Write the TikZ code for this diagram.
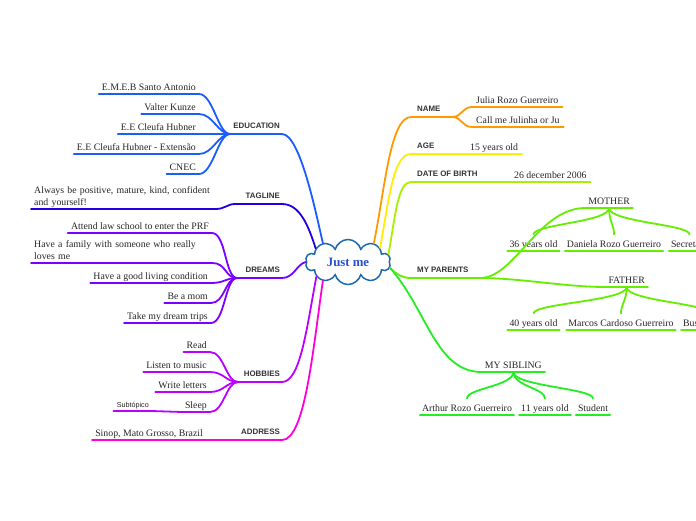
\documentclass[tikz,border=0pt]{standalone}
\usepackage{fontspec}
\setmainfont{Liberation Serif}
\setsansfont{Liberation Sans}
\usetikzlibrary{shapes.symbols}
\definecolor{cedu}{HTML}{1A5CFF}
\definecolor{ctag}{HTML}{2200DD}
\definecolor{cdream}{HTML}{7A00FF}
\definecolor{chobby}{HTML}{BB00FF}
\definecolor{caddr}{HTML}{FF00DD}
\definecolor{cname}{HTML}{FF9900}
\definecolor{cage}{HTML}{FFEE00}
\definecolor{cbirth}{HTML}{AAEE00}
\definecolor{cparent}{HTML}{66EE00}
\definecolor{csibling}{HTML}{22EE22}
\definecolor{cloudline}{HTML}{1E6AAE}
\definecolor{rootblue}{HTML}{2650D0}

\begin{document}
\begin{tikzpicture}[x=1pt, y=-1pt, line cap=round,
  leaf/.style={font=\fontsize{9.8}{12}\selectfont, text=black!85, inner xsep=3pt, inner ysep=1.5pt, text depth=2.2pt},
  lleaf/.style={leaf, anchor=south east},
  rleaf/.style={leaf, anchor=south west, inner xsep=4pt},
  kid/.style={leaf, anchor=south, text height=11pt, inner xsep=2pt},
  topic/.style={font=\sffamily\bfseries\fontsize{7.9}{9}\selectfont, text=black!80, inner ysep=5pt, text depth=0pt},
  ltopic/.style={topic, anchor=south east, inner xsep=2pt},
  rtopic/.style={topic, anchor=south west, inner xsep=6pt},
  branch/.style={line width=1.8pt, draw=#1}]
  \fill[white] (0,0) rectangle (696,520);
  \useasboundingbox (0,0) rectangle (696,520);
  \clip (0,0) rectangle (696,520);

  \node[cloud, cloud puffs=10, cloud ignores aspect, draw=cloudline, line width=1.5pt, fill=white,
    minimum width=85pt, minimum height=45pt, inner sep=0pt, text=rootblue,
    font=\bfseries\fontsize{12.8}{14}\selectfont] (root) at (348,262) {Just me};

  \node[ltopic] (edu) at (282,134) {EDUCATION};
  \node[ltopic] (tagline) at (282,204) {TAGLINE};
  \node[ltopic] (dreams) at (282,278) {DREAMS};
  \node[ltopic] (hobbies) at (282,382) {HOBBIES};
  \node[ltopic] (address) at (282,440) {ADDRESS};
  \coordinate (eduhub) at (230,134);
  \coordinate (taghub) at (235,204);
  \coordinate (dreamhub) at (237,278);
  \coordinate (hobhub) at (238,382);
  \coordinate (addrhub) at (238,440);

  \node[rtopic] (name) at (411,117) {NAME};
  \node[rtopic] (age) at (411,154) {AGE};
  \node[rtopic] (birth) at (411,182) {DATE OF BIRTH};
  \node[rtopic] (parents) at (411,278) {MY PARENTS};
  \coordinate (namehub) at (452,117);
  \coordinate (parhub) at (480,278);

  \node[lleaf] (emeb) at (199,94) {E.M.E.B Santo Antonio};
  \node[lleaf] (valter) at (199,114) {Valter Kunze};
  \node[lleaf] (cleufa) at (199,134) {E.E Cleufa Hubner};
  \node[lleaf] (cleufaext) at (199,154) {E.E Cleufa Hubner - Extensão};
  \node[lleaf] (cnec) at (199,174) {CNEC};

  \node[leaf, anchor=south west, text width=178pt, align=left, text depth={}] (motto) at (31,209)
    {Always be positive, mature, kind, confident\\and yourself!};

  \node[lleaf] (law) at (212,233) {Attend law school to enter the PRF};
  \node[leaf, anchor=south west, text width=175pt, align=left, text depth={}, inner ysep=3.5pt] (family) at (31,263)
    {Have a family with someone who really\\loves me};
  \node[lleaf] (living) at (211,283) {Have a good living condition};
  \node[lleaf] (mom) at (211,303) {Be a mom};
  \node[lleaf] (trips) at (211,323) {Take my dream trips};

  \node[lleaf] (read) at (210,352) {Read};
  \node[lleaf] (music) at (210,372) {Listen to music};
  \node[lleaf] (letters) at (210,392) {Write letters};
  \node[lleaf] (sleep) at (210,412) {Sleep};
  \node[lleaf, font=\sffamily\fontsize{7.2}{9}\selectfont] (subtopic) at (152,411) {Subtópico};

  \node[lleaf] (city) at (206,440) {Sinop, Mato Grosso, Brazil};

  \node[rleaf] (julia) at (472,107) {Julia Rozo Guerreiro};
  \node[rleaf] (nick) at (472,127) {Call me Julinha or Ju};
  \node[rleaf] (years) at (466,154) {15 years old};
  \node[rleaf] (bday) at (510,182) {26 december 2006};

  \node[lleaf] (mother) at (633,208) {MOTHER};
  \node[kid] (mage) at (533.5,251) {36 years old};
  \node[kid] (mname) at (614,251) {Daniela Rozo Guerreiro};
  \node[kid] (mjob) at (689.5,251) {Secretary};

  \node[lleaf] (father) at (648,287) {FATHER};
  \node[kid] (fage) at (533.5,330) {40 years old};
  \node[kid] (fname) at (621,330) {Marcos Cardoso Guerreiro};
  \node[kid] (fjob) at (709,330) {Businessman};

  \node[lleaf] (sibling) at (545,372) {MY SIBLING};
  \node[kid] (sname) at (467,415) {Arthur Rozo Guerreiro};
  \node[kid] (sage) at (545,415) {11 years old};
  \node[kid] (sjob) at (593,415) {Student};

  \draw[branch=cedu] (root.143) .. controls +(-7,-30) and +(18,0) .. (edu.south east) -- (eduhub);
  \draw[branch=ctag] (root.157) .. controls +(-7,-22) and +(18,0) .. (tagline.south east) -- (taghub);
  \draw[branch=cdream] (root.180) .. controls +(-9,2) and +(12,0) .. (dreams.south east) -- (dreamhub);
  \draw[branch=chobby] (root.205) .. controls +(-10,54) and +(18,0) .. (hobbies.south east) -- (hobhub);
  \draw[branch=caddr] (root.217) .. controls +(-10,69) and +(23,0) .. (address.south east) -- (addrhub);

  \draw[branch=cname] (root.36) .. controls +(11,-53) and +(-21,0) .. (name.south west) -- (namehub);
  \draw[branch=cage] (root.24) .. controls +(9,-48) and +(-18,0) .. (age.south west) -- (years.south west) -- (years.south east);
  \draw[branch=cbirth] (root.11) .. controls +(7,-40) and +(-13,0) .. (birth.south west) -- (bday.south west) -- (bday.south east);
  \draw[branch=cparent] (root.-8) .. controls +(7,7) and +(-8,0) .. (parents.south west) -- (parhub);
  \draw[branch=csibling] (root.-8) .. controls +(37,42) and +(-46,0) .. (sibling.south west) -- (sibling.south east);

  \foreach \n in {emeb, valter, cleufa, cleufaext, cnec}
    \draw[branch=cedu] (\n.south west) -- (\n.south east) .. controls +(14,0) and +(-12,0) .. (eduhub);
  \draw[branch=ctag] (motto.south west) -- (motto.south east) .. controls +(10,0) and +(-8,0) .. (taghub);
  \foreach \n in {law, family, living, mom, trips}
    \draw[branch=cdream] (\n.south west) -- (\n.south east) .. controls +(14,0) and +(-12,0) .. (dreamhub);
  \foreach \n in {read, music, letters, sleep}
    \draw[branch=chobby] (\n.south west) -- (\n.south east) .. controls +(14,0) and +(-12,0) .. (hobhub);
  \draw[branch=chobby] (subtopic.south west) -- (subtopic.south east) .. controls +(15,0) and +(-15,0) .. (sleep.south west);
  \draw[branch=caddr] (city.south west) -- (addrhub);

  \foreach \n in {julia, nick}
    \draw[branch=cname] (namehub) .. controls +(10,0) and +(-10,0) .. (\n.south west) -- (\n.south east);

  \draw[branch=cparent] (parhub) .. controls +(35,0) and +(-47,0) .. (mother.south west) -- (mother.south east);
  \draw[branch=cparent] (parhub) .. controls +(40,0) and +(-40,0) .. (father.south west) -- (father.south east);
  \foreach \n in {mage, mname, mjob}
    \draw[branch=cparent] (mother.south) .. controls +(0,14) and +(0,-10) .. (\n.north)
      (\n.south west) -- (\n.south east);
  \foreach \n in {fage, fname, fjob}
    \draw[branch=cparent] (father.south) .. controls +(0,14) and +(0,-10) .. (\n.north)
      (\n.south west) -- (\n.south east);
  \foreach \n in {sname, sage, sjob}
    \draw[branch=csibling] (sibling.south) .. controls +(0,14) and +(0,-10) .. (\n.north)
      (\n.south west) -- (\n.south east);
\end{tikzpicture}
\end{document}
